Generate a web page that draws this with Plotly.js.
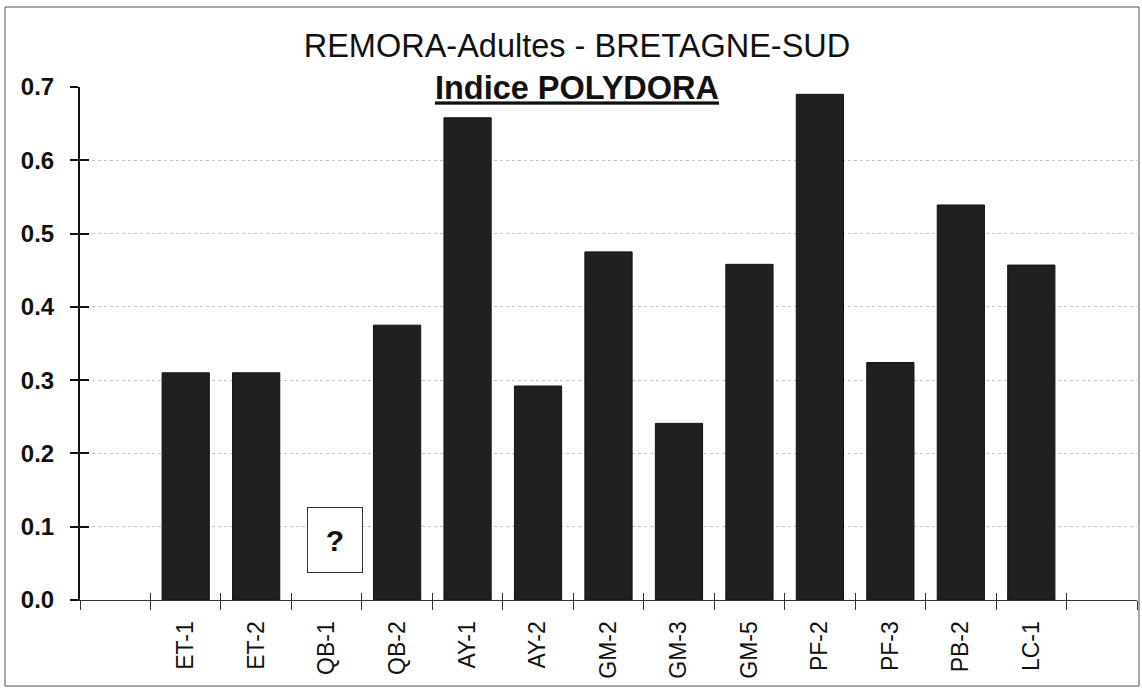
<!DOCTYPE html>
<html>
<head>
<meta charset="utf-8">
<script src="https://cdn.plot.ly/plotly-3.0.1.min.js"></script>
<style>
  html, body { margin: 0; padding: 0; background: #ffffff; }
  #chart { width: 1142px; height: 689px; }
</style>
</head>
<body>
<div id="chart"></div>
<script>
// ---- Data ----
const categories = ['ET-1', 'ET-2', 'QB-1', 'QB-2', 'AY-1', 'AY-2', 'GM-2', 'GM-3', 'GM-5', 'PF-2', 'PF-3', 'PB-2', 'LC-1'];
const polydoraIndex = [0.31, 0.31, null, 0.375, 0.658, 0.292, 0.475, 0.241, 0.458, 0.69, 0.324, 0.539, 0.457];
const missingCategory = 'QB-1';
const yTickVals = [0, 0.1, 0.2, 0.3, 0.4, 0.5, 0.6, 0.7];
const titleLine1 = 'REMORA-Adultes - BRETAGNE-SUD';
const titleLine2 = 'Indice POLYDORA';

// empty slots at both ends of the category axis (as in the original)
const padStart = ' ';
const padEnd = '  ';
const allCats = [padStart].concat(categories, [padEnd]);
const allVals = [null].concat(polydoraIndex, [null]);

const FONT = 'Arial, "Liberation Sans", Helvetica, sans-serif';

const barTrace = {
  type: 'bar',
  x: allCats,
  y: allVals,
  marker: { color: '#202020', line: { color: '#111111', width: 1 } },
  hoverinfo: 'x+y',
  showlegend: false
};

// invisible helper traces so the overlay axes (crossing tick marks) are drawn
const helperX2 = {
  type: 'scatter', mode: 'markers', x: allCats, y: allVals.map(() => null),
  xaxis: 'x2', yaxis: 'y', hoverinfo: 'skip', showlegend: false
};
const helperY2 = {
  type: 'scatter', mode: 'markers', x: allCats, y: allVals.map(() => null),
  xaxis: 'x', yaxis: 'y2', hoverinfo: 'skip', showlegend: false
};

const catRange = [-0.5, allCats.length - 0.5];

const layout = {
  width: 1142,
  height: 689,
  paper_bgcolor: '#ffffff',
  plot_bgcolor: '#ffffff',
  margin: { l: 80, r: 5, t: 87, b: 89 },
  bargap: 0.33,
  showlegend: false,
  font: { family: FONT, color: '#111111' },
  title: {
    text: titleLine1 + '<br><b><u>' + titleLine2 + '</u></b>',
    font: { family: FONT, size: 32.5, color: '#111111' },
    xref: 'container', x: 577 / 1142, xanchor: 'center',
    yref: 'container', y: 0.917, yanchor: 'top'
  },
  xaxis: {
    type: 'category',
    categoryorder: 'array',
    categoryarray: allCats,
    range: catRange,
    tickson: 'boundaries',
    ticks: 'outside',
    ticklen: 9,
    tickwidth: 1,
    tickcolor: '#333333',
    showline: true,
    linecolor: '#333333',
    linewidth: 1,
    showgrid: false,
    zeroline: false,
    tickangle: -90,
    ticklabelstandoff: 11,
    tickfont: { family: FONT, size: 23, color: '#111111' },
    fixedrange: true
  },
  xaxis2: {
    type: 'category',
    categoryorder: 'array',
    categoryarray: allCats,
    range: catRange,
    overlaying: 'x',
    anchor: 'y',
    side: 'bottom',
    tickson: 'boundaries',
    ticks: 'inside',
    ticklen: 7,
    tickwidth: 1,
    tickcolor: '#333333',
    showticklabels: false,
    showline: false,
    showgrid: false,
    zeroline: false,
    fixedrange: true
  },
  yaxis: {
    range: [0, 0.7],
    tickvals: yTickVals,
    tickformat: '.1f',
    ticks: 'outside',
    ticklen: 8,
    tickwidth: 2,
    tickcolor: '#111111',
    showline: true,
    linecolor: '#111111',
    linewidth: 2,
    showgrid: true,
    gridcolor: '#c4c4c4',
    griddash: 'dot',
    gridwidth: 1,
    zeroline: false,
    ticklabelstandoff: 11,
    tickfont: { family: FONT, size: 24, color: '#111111', weight: 'bold' },
    fixedrange: true
  },
  yaxis2: {
    range: [0, 0.7],
    tickvals: yTickVals,
    overlaying: 'y',
    anchor: 'x',
    side: 'left',
    ticks: 'inside',
    ticklen: 9,
    tickwidth: 2,
    tickcolor: '#111111',
    showticklabels: false,
    showline: false,
    showgrid: false,
    zeroline: false,
    fixedrange: true
  },
  annotations: [
    {
      x: missingCategory, y: 0.082, xref: 'x', yref: 'y',
      xshift: 8,
      text: '<b>?</b>',
      showarrow: false,
      font: { family: FONT, size: 30, color: '#111111' },
      bordercolor: '#333333', borderwidth: 1, borderpad: 12,
      bgcolor: '#ffffff',
      width: 30, height: 40
    }
  ],
  shapes: [
    {
      type: 'rect', xref: 'paper', yref: 'paper',
      x0: (5 - 80) / 1057, x1: (1139 - 80) / 1057,
      y0: (600 - 686) / 513, y1: (600 - 7) / 513,
      line: { color: '#555555', width: 1 },
      fillcolor: 'rgba(0,0,0,0)',
      layer: 'below'
    }
  ]
};

Plotly.newPlot('chart', [barTrace, helperX2, helperY2], layout, { displayModeBar: false, staticPlot: true });
</script>
</body>
</html>
